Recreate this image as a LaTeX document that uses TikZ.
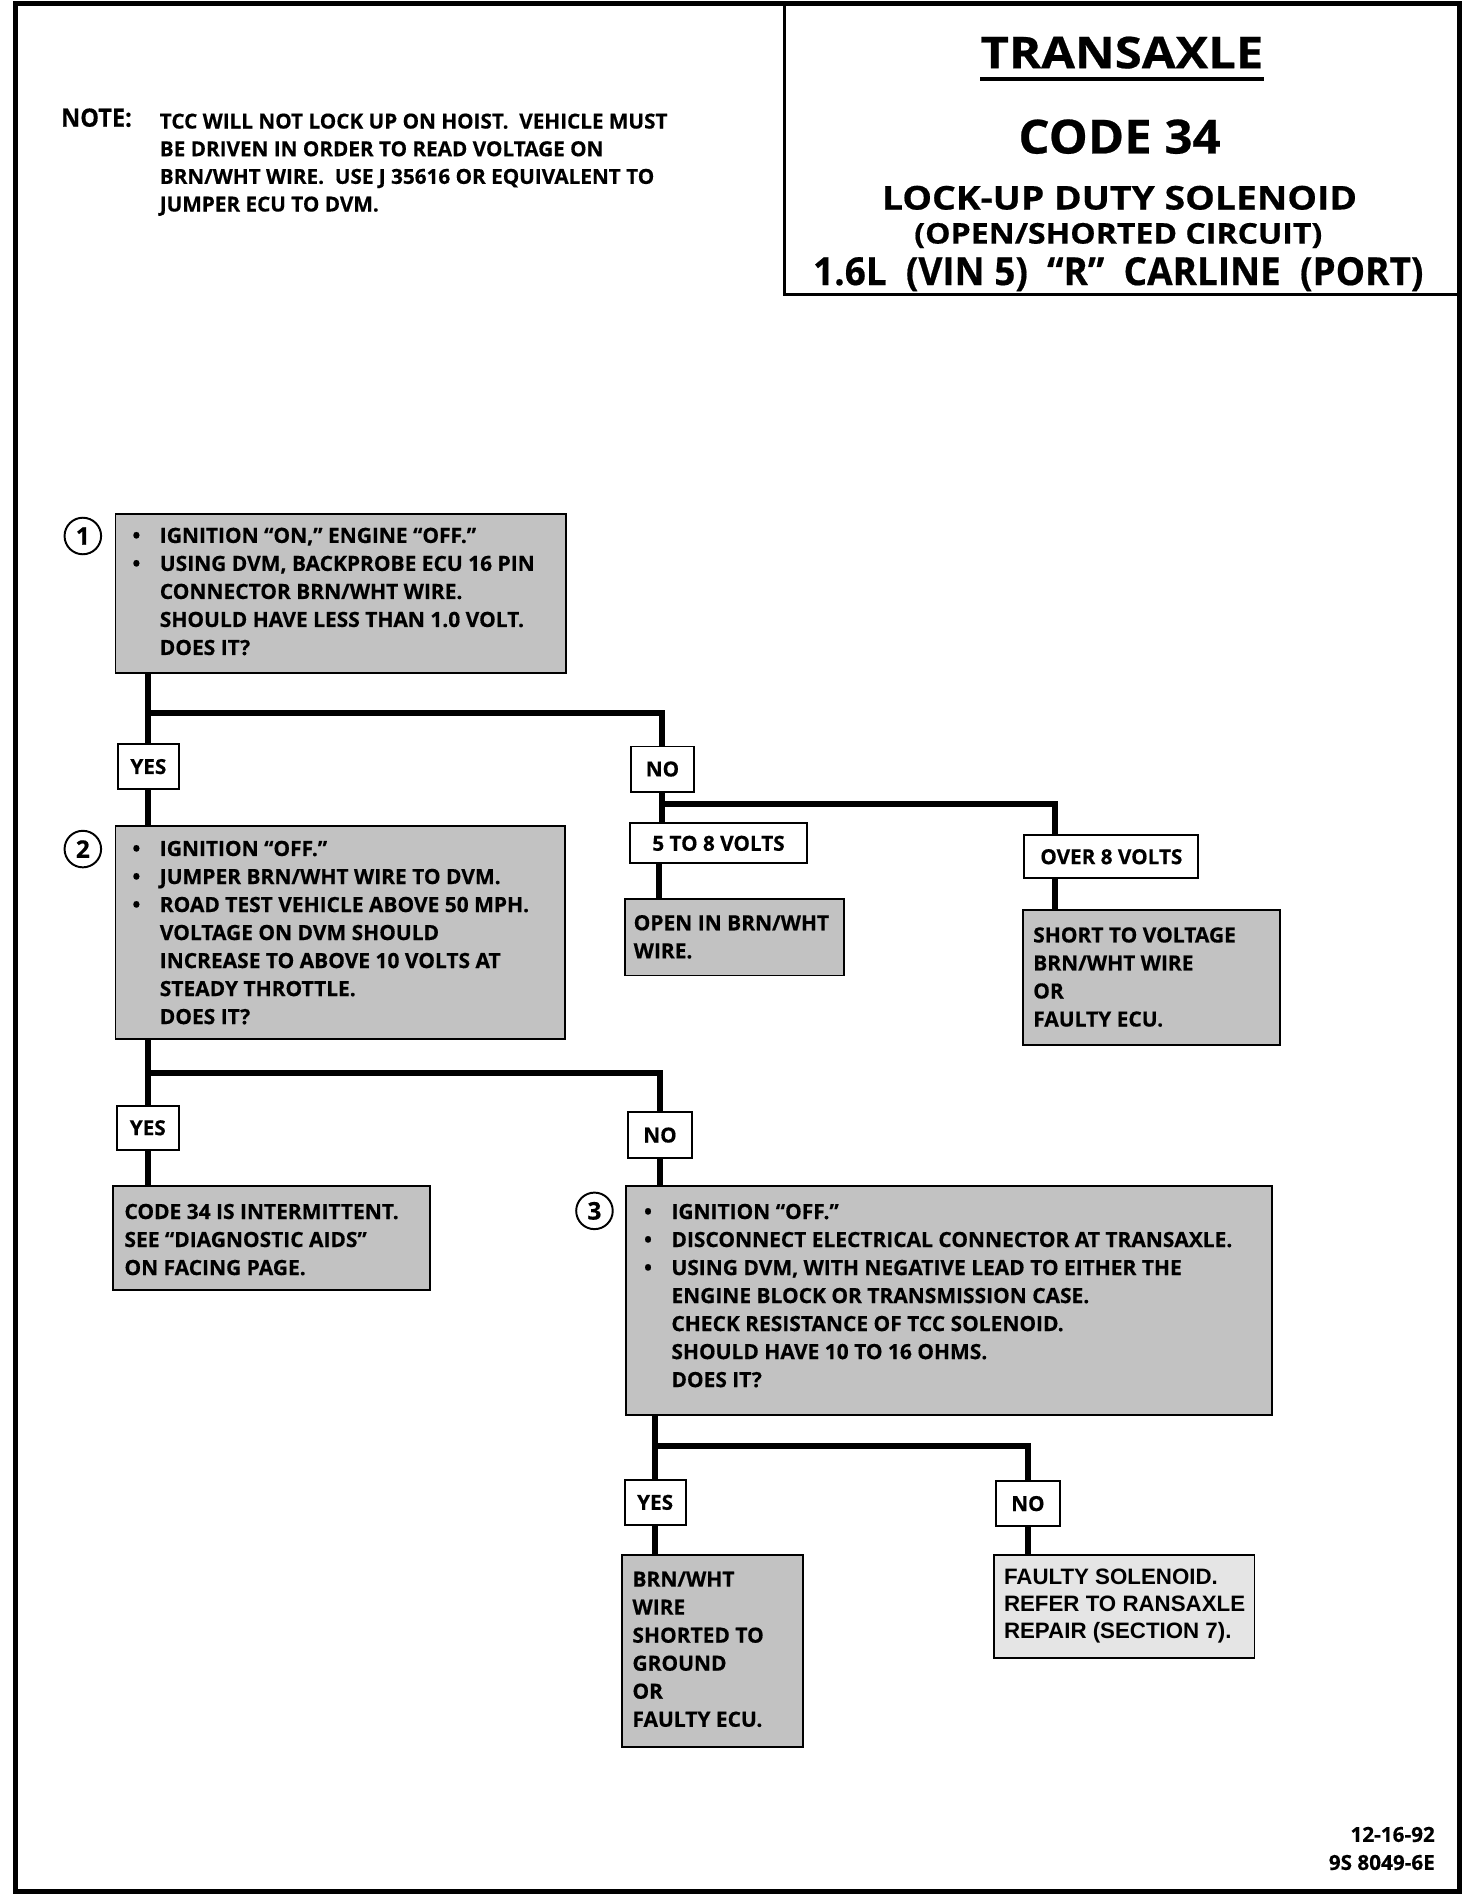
\documentclass[tikz,border=0pt]{standalone}
\usepackage{graphicx}
\usepackage{fontspec}
\setmainfont{Open Sans}
\newfontfamily\heavyfont[FakeBold=0.5]{Open Sans}
\newfontfamily\hvfont{Liberation Sans}
\newcommand{\bulmark}{\llap{\textbullet\hspace{16pt}}}
\newcommand{\fitto}[3]{\resizebox{#1}{#2}{#3}}
\tikzset{
  conn/.style={line width=5pt},
  gbox/.style={draw, line width=1.6pt, fill=black!24, rectangle, inner sep=0pt, anchor=north west},
  lgbox/.style={gbox, fill=black!10},
  lbox/.style={draw, line width=1.6pt, fill=white, rectangle, inner sep=0pt, anchor=north west,
     font=\heavyfont\bfseries\fontsize{17}{17}\selectfont},
  num/.style={circle, draw, line width=1.6pt, minimum size=30pt, inner sep=0pt,
     font=\heavyfont\bfseries\fontsize{20}{20}\selectfont},
  btxt/.style={anchor=north west, align=left, inner sep=0pt, font=\heavyfont\bfseries\fontsize{17.2}{23}\selectfont},
  htxt/.style={anchor=north west, align=left, inner sep=0pt, font=\hvfont\bfseries\fontsize{18.3}{22}\selectfont},
  ttl/.style={anchor=base, inner sep=0pt, font=\heavyfont\bfseries\fontsize{30}{30}\selectfont},
}
\begin{document}
\begin{tikzpicture}[x=1pt,y=-1pt]
\useasboundingbox (0,0) rectangle (1208,1563);

% outer frame
\draw[line width=4pt] (13,1553) -- (13,3) -- (1198,3) -- (1198,1553) -- cycle;
% title box
\draw[line width=2.2pt] (644,3) -- (644,242) -- (1198,242);

% title texts
\node[ttl] (tr) at (921,56) {\fitto{232pt}{26pt}{TRANSAXLE}};
\draw[line width=3pt] ([yshift=-9pt]tr.base west) -- ([yshift=-9pt]tr.base east);
\node[ttl] (code) at (919,126) {\fitto{166pt}{28pt}{CODE 34}};
\node[ttl] (lock) at (919,172) {\fitto{390pt}{19.5pt}{LOCK-UP DUTY SOLENOID}};
\node[ttl] (open) at (918,200) {\fitto{335pt}{17pt}{(OPEN/SHORTED CIRCUIT)}};
\node[ttl] (vin) at (918,234) {\fitto{501pt}{23pt}{1.6L\ \ (VIN 5)\ \ “R”\ \ CARLINE\ \ (PORT)}};

% note
\node[anchor=base west, inner sep=0pt, font=\heavyfont\bfseries\fontsize{20}{20}\selectfont] (note) at (50,104) {\fitto{58pt}{15pt}{NOTE:}};
\node[anchor=north west, align=left, inner sep=0pt, font=\heavyfont\bfseries\fontsize{17}{22.7}\selectfont] (notetxt) at (131,93)
 {TCC WILL NOT LOCK UP ON HOIST.\ \ VEHICLE MUST\\ BE DRIVEN IN ORDER TO READ VOLTAGE ON\\ BRN/WHT WIRE.\ \ USE J 35616 OR EQUIVALENT TO\\ JUMPER ECU TO DVM.};

% ---------- nodes (boxes) ----------
\node[gbox, minimum width=370pt, minimum height=131pt] (b1) at (94,421) {};
\node[lbox, minimum width=50pt, minimum height=37pt] (yes1) at (96,610) {YES};
\node[lbox, minimum width=52pt, minimum height=37pt] (no1) at (517,612) {NO};
\node[lbox, minimum width=146pt, minimum height=33pt] (v58) at (516,675) {5 TO 8 VOLTS};
\node[lbox, minimum width=143pt, minimum height=35pt] (ov8) at (840,685) {OVER 8 VOLTS};
\node[gbox, minimum width=180pt, minimum height=63pt] (openb) at (512,737) {};
\node[gbox, minimum width=211pt, minimum height=111pt] (short) at (839,746) {};
\node[gbox, minimum width=369pt, minimum height=175pt] (b2) at (94,677) {};
\node[lbox, minimum width=51pt, minimum height=36pt] (yes2) at (95,907) {YES};
\node[lbox, minimum width=52pt, minimum height=38pt] (no2) at (515,912) {NO};
\node[gbox, minimum width=260pt, minimum height=85pt] (cbox) at (92,973) {};
\node[gbox, minimum width=530pt, minimum height=188pt] (b3) at (513,973) {};
\node[lbox, minimum width=50pt, minimum height=37pt] (yes3) at (512,1214) {YES};
\node[lbox, minimum width=52pt, minimum height=37pt] (no3) at (817,1215) {NO};
\node[gbox, minimum width=148pt, minimum height=157pt] (brn) at (510,1276) {};
\node[lgbox, minimum width=214pt, minimum height=84pt] (fault) at (815,1276) {};

% number circles
\node[num] (n1) at (68,440) {1};
\node[num] (n2) at (68,697) {2};
\node[num] (n3) at (488,994) {3};

% ---------- connectors ----------
\coordinate (j1) at (121,585);
\coordinate (j2) at (543,660);
\coordinate (j3) at (120,881);
\coordinate (j4) at (537,1187);
\draw[conn] (yes1.north |- b1.south) -- (yes1.north);
\draw[conn] (j1) -| (no1.north);
\draw[conn] (yes1.south) -- (yes1.south |- b2.north);
\draw[conn] (no1.south) -- (no1.south |- v58.north);
\draw[conn] (j2) -| ([xshift=26pt]ov8.north west);
\draw[conn] ([xshift=25pt]v58.south west) -- ([xshift=25pt]v58.south west |- openb.north);
\draw[conn] ([xshift=26pt]ov8.south west) -- ([xshift=26pt]ov8.south west |- short.north);
\draw[conn] (yes2.north |- b2.south) -- (yes2.north);
\draw[conn] (j3) -| (no2.north);
\draw[conn] (yes2.south) -- (yes2.south |- cbox.north);
\draw[conn] (no2.south) -- (no2.south |- b3.north);
\draw[conn] (yes3.north |- b3.south) -- (yes3.north);
\draw[conn] (j4) -| (no3.north);
\draw[conn] (yes3.south) -- (yes3.south |- brn.north);
\draw[conn] (no3.south) -- (no3.south |- fault.north);

% ---------- texts ----------
\node[btxt] (t1) at (131,433) {\bulmark IGNITION “ON,” ENGINE “OFF.”\\ \bulmark USING DVM, BACKPROBE ECU 16 PIN\\ CONNECTOR BRN/WHT WIRE.\\ SHOULD HAVE LESS THAN 1.0 VOLT.\\ DOES IT?};
\node[btxt] (t2) at (131,690) {\bulmark IGNITION “OFF.”\\ \bulmark JUMPER BRN/WHT WIRE TO DVM.\\ \bulmark ROAD TEST VEHICLE ABOVE 50 MPH.\\ VOLTAGE ON DVM SHOULD\\ INCREASE TO ABOVE 10 VOLTS AT\\ STEADY THROTTLE.\\ DOES IT?};
\node[btxt] (topen) at (520,751) {OPEN IN BRN/WHT\\ WIRE.};
\node[btxt] (tshort) at (848,761) {SHORT TO VOLTAGE\\ BRN/WHT WIRE\\ OR\\ FAULTY ECU.};
\node[btxt] (tcode) at (102,988) {CODE 34 IS INTERMITTENT.\\ SEE “DIAGNOSTIC AIDS”\\ ON FACING PAGE.};
\node[btxt] (t3) at (551,988) {\bulmark IGNITION “OFF.”\\ \bulmark DISCONNECT ELECTRICAL CONNECTOR AT TRANSAXLE.\\ \bulmark USING DVM, WITH NEGATIVE LEAD TO EITHER THE\\ ENGINE BLOCK OR TRANSMISSION CASE.\\ CHECK RESISTANCE OF TCC SOLENOID.\\ SHOULD HAVE 10 TO 16 OHMS.\\ DOES IT?};
\node[btxt] (tbrn) at (519,1290) {BRN/WHT\\ WIRE\\ SHORTED TO\\ GROUND\\ OR\\ FAULTY ECU.};
\node[htxt] (tfault) at (824,1288) {FAULTY SOLENOID.\\ REFER TO RANSAXLE\\ REPAIR (SECTION 7).};

% footer
\node[anchor=base east, inner sep=0pt, font=\heavyfont\bfseries\fontsize{17}{17}\selectfont] (date) at (1178,1512) {12-16-92};
\node[anchor=base east, inner sep=0pt, font=\heavyfont\bfseries\fontsize{17}{17}\selectfont] (docno) at (1178,1535) {9S 8049-6E};
\end{tikzpicture}
\end{document}
